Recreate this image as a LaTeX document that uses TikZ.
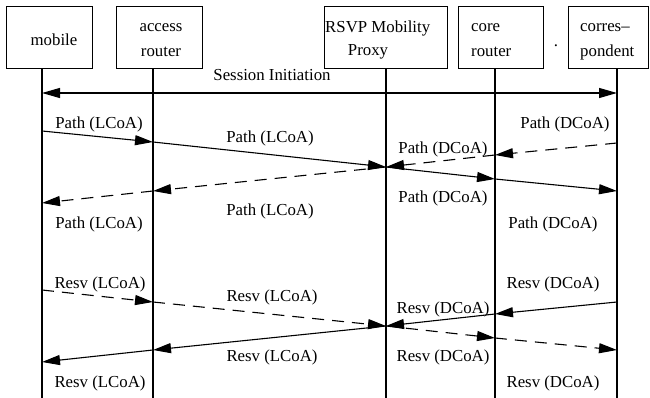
\documentclass[tikz,border=0pt]{standalone}
\usepackage{fontspec}
\setmainfont{Liberation Serif}
\usetikzlibrary{arrows.meta}
\begin{document}
\begin{tikzpicture}[x=1pt,y=-1pt,
  every node/.style={font=\fontsize{16.8}{24}\selectfont, inner sep=0pt},
  entity/.style={draw, line width=1pt, minimum height=62pt, inner sep=0pt},
  lifeline/.style={line width=1.3pt},
  msg/.style={line width=1.1pt, -{Triangle[length=18pt,width=10pt]}},
  dmsg/.style={msg, dash pattern=on 12pt off 8pt},
  lbl/.style={anchor=center}]
\useasboundingbox (0,0) rectangle (650,398);

% entity boxes
\node[entity, minimum width=86pt] (mobile) at (49,38) {};
\node[entity, minimum width=86pt] (access) at (159,38) {};
\node[entity, minimum width=123pt] (proxy) at (385.5,38) {};
\node[entity, minimum width=85pt] (core) at (500.5,38) {};
\node[entity, minimum width=80pt] (corres) at (608,38) {};

% entity names
\node (mobileT) at (54,40) {mobile};
\node (accessT1) at (161,28) {access};
\node (accessT2) at (161,52) {router};
\node[anchor=west] (proxyT1) at (325,28) {RSVP Mobility};
\node (proxyT2) at (368,52) {Proxy};
\node[anchor=west] (coreT1) at (471,28) {core};
\node[anchor=west] (coreT2) at (471,52) {router};
\node[anchor=west] (corresT1) at (580,28) {corres--};
\node[anchor=west] (corresT2) at (580,52) {pondent};
\node (speck) at (556,46) {.};

% lifelines
\coordinate (mobileB) at (42,398);
\coordinate (accessB) at (153,398);
\coordinate (proxyB) at (386,398);
\coordinate (coreB) at (495,398);
\coordinate (corresB) at (617,398);
\draw[lifeline] (mobileB |- mobile.south) -- (mobileB);
\draw[lifeline] (accessB |- access.south) -- (accessB);
\draw[lifeline] (proxyB |- proxy.south) -- (proxyB);
\draw[lifeline] (coreB |- core.south) -- (coreB);
\draw[lifeline] (corresB |- corres.south) -- (corresB);

% session initiation
\coordinate (siM) at (42,93);
\coordinate (siC) at (617,93);
\draw[msg, {Triangle[length=18pt,width=10pt]}-{Triangle[length=18pt,width=10pt]}] (siM) -- (siC);
\node (siT) at (272,75) {Session Initiation};

% Path messages
\coordinate (pa1) at (42,131);
\coordinate (pa2) at (153,142);
\coordinate (px) at (386,167);
\coordinate (pa4) at (495,179);
\coordinate (pa5) at (617,191);
\coordinate (pd1) at (617,143);
\coordinate (pd2) at (495,155);
\coordinate (pd4) at (153,191);
\coordinate (pd5) at (42,203);
\draw[msg] (pa1) -- (pa2);
\draw[msg] (pa2) -- (px);
\draw[msg] (px) -- (pa4);
\draw[msg] (pa4) -- (pa5);
\draw[dmsg] (pd1) -- (pd2);
\draw[dmsg] (pd2) -- (px);
\draw[dmsg] (px) -- (pd4);
\draw[dmsg] (pd4) -- (pd5);

\node[lbl] (pl1) at (99,124) {Path (LCoA)};
\node[lbl] (pl2) at (270,138) {Path (LCoA)};
\node[lbl] (pl3) at (270,211) {Path (LCoA)};
\node[lbl] (pl4) at (99,224) {Path (LCoA)};
\node[lbl] (pd1T) at (565,124) {Path (DCoA)};
\node[lbl] (pd2T) at (443,149) {Path (DCoA)};
\node[lbl] (pd3T) at (443,198) {Path (DCoA)};
\node[lbl] (pd4T) at (553,224) {Path (DCoA)};

% Resv messages
\coordinate (ra1) at (42,290);
\coordinate (ra2) at (153,302);
\coordinate (rx) at (386,326);
\coordinate (ra4) at (495,338);
\coordinate (ra5) at (617,350);
\coordinate (rd1) at (617,302);
\coordinate (rd2) at (495,314);
\coordinate (rd4) at (153,350);
\coordinate (rd5) at (42,362);
\draw[dmsg] (ra1) -- (ra2);
\draw[dmsg] (ra2) -- (rx);
\draw[dmsg] (rx) -- (ra4);
\draw[dmsg] (ra4) -- (ra5);
\draw[msg] (rd1) -- (rd2);
\draw[msg] (rd2) -- (rx);
\draw[msg] (rx) -- (rd4);
\draw[msg] (rd4) -- (rd5);

\node[lbl] (rl1) at (100,284) {Resv (LCoA)};
\node[lbl] (rl2) at (272,297) {Resv (LCoA)};
\node[lbl] (rl3) at (272,357) {Resv (LCoA)};
\node[lbl] (rl4) at (100,383) {Resv (LCoA)};
\node[lbl] (rd1T) at (553,284) {Resv (DCoA)};
\node[lbl] (rd2T) at (443,309) {Resv (DCoA)};
\node[lbl] (rd3T) at (443,357) {Resv (DCoA)};
\node[lbl] (rd4T) at (553,383) {Resv (DCoA)};
\end{tikzpicture}
\end{document}
